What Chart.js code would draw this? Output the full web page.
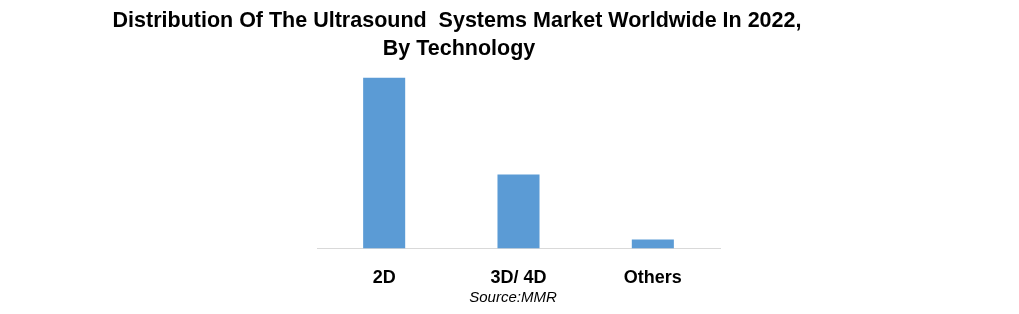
<!DOCTYPE html>
<html>
<head>
<meta charset="utf-8">
<script src="https://cdn.jsdelivr.net/npm/chart.js@4/dist/chart.umd.min.js"></script>
<style>
  html, body { margin: 0; padding: 0; background: #fff; }
  #wrap { width: 1019px; height: 314px; position: relative; }
</style>
</head>
<body>
<div id="wrap"><canvas id="myChart" width="1019" height="314"></canvas></div>
<script>
// values (share of market, %)
const categories = ['2D', '3D/ 4D', 'Others'];
const shares = [67, 29, 3.5];
const titleLines = ['Distribution Of The Ultrasound  Systems Market Worldwide In 2022,', 'By Technology'];
const sourceText = 'Source:MMR';

const FONT = '"Liberation Sans Narrow", "Liberation Sans", sans-serif';

// draws the title and source note at fixed spots
const textPlugin = {
    id: 'textPlugin',
    afterDraw(chart) {
        const ctx = chart.ctx;
        ctx.save();
        ctx.fillStyle = '#000';
        ctx.textAlign = 'center';
        ctx.textBaseline = 'middle';
        ctx.font = 'bold 21.5px ' + FONT;
        ctx.fillText(titleLines[0], 457, 21);
        ctx.fillText(titleLines[1], 459, 49);
        ctx.font = 'italic 15px ' + FONT;
        ctx.fillText(sourceText, 513, 298);
        ctx.restore();
    }
};

const ctx = document.getElementById('myChart').getContext('2d');
window.myChart = new Chart(ctx, {
    type: 'bar',
    data: {
        labels: categories,
        datasets: [{
            data: shares,
            backgroundColor: '#5b9bd5',
            borderWidth: 0,
            categoryPercentage: 1,
            barPercentage: 0.313
        }]
    },
    options: {
        responsive: false,
        animation: false,
        layout: { padding: { left: 317, right: 299, top: 70, bottom: 6 } },
        plugins: { legend: { display: false }, tooltip: { enabled: false } },
        scales: {
            x: {
                grid: { display: false, drawTicks: false },
                border: { color: '#d9d9d9', width: 1 },
                ticks: { color: '#000', padding: 19, font: { family: FONT, size: 18, weight: 'bold' } }
            },
            y: {
                display: false,
                min: 0,
                max: 70
            }
        }
    },
    plugins: [textPlugin]
});
</script>
</body>
</html>
